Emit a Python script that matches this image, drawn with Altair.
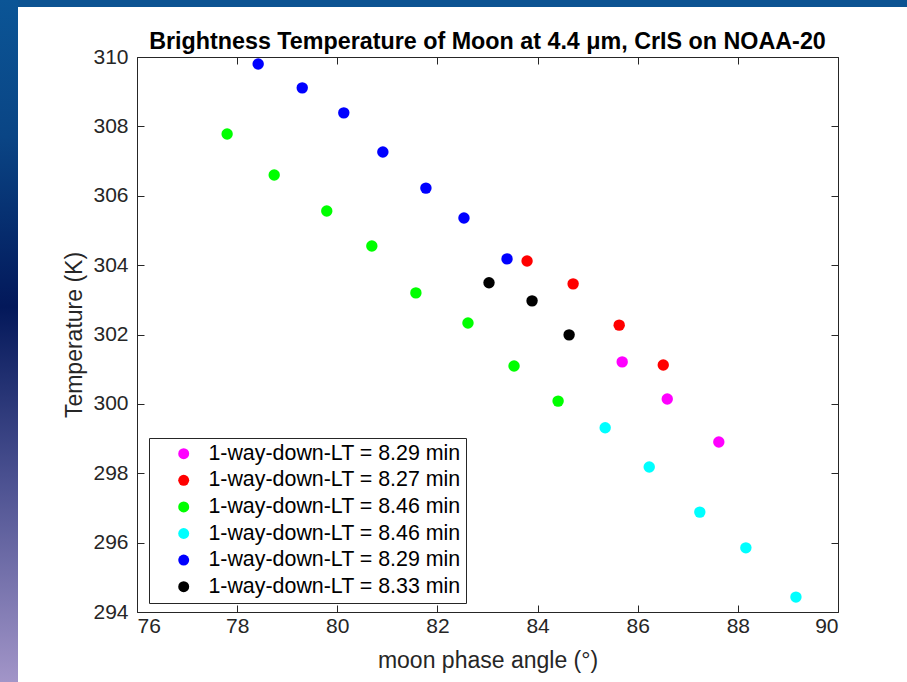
import json
import altair as alt
import pandas as pd

# ---- data ----
series_ids = ["s1", "s2", "s3", "s4", "s5", "s6"]
series_labels = [
    "1-way-down-LT = 8.29 min",
    "1-way-down-LT = 8.27 min",
    "1-way-down-LT = 8.46 min",
    "1-way-down-LT = 8.46 min",
    "1-way-down-LT = 8.29 min",
    "1-way-down-LT = 8.33 min",
]
series_colors = ["#ff00ff", "#ff0000", "#00ff00", "#00ffff", "#0000ff", "#000000"]

magenta_x = [85.69, 86.59, 87.62]
magenta_y = [301.21, 300.14, 298.90]
red_x = [83.79, 84.71, 85.63, 86.51]
red_y = [304.12, 303.46, 302.27, 301.12]
green_x = [77.80, 78.74, 79.79, 80.69, 81.57, 82.61, 83.53, 84.41]
green_y = [307.78, 306.60, 305.56, 304.55, 303.20, 302.33, 301.09, 300.08]
cyan_x = [85.35, 86.23, 87.24, 88.16, 89.16]
cyan_y = [299.31, 298.18, 296.88, 295.85, 294.43]
blue_x = [78.42, 79.30, 80.13, 80.91, 81.77, 82.53, 83.39]
blue_y = [309.80, 309.11, 308.39, 307.26, 306.22, 305.36, 304.18]
black_x = [83.03, 83.89, 84.63]
black_y = [303.49, 302.97, 301.99]

x_ticks = [76, 78, 80, 82, 84, 86, 88, 90]
y_ticks = [294, 296, 298, 300, 302, 304, 306, 308, 310]

series_x = [magenta_x, red_x, green_x, cyan_x, blue_x, black_x]
series_y = [magenta_y, red_y, green_y, cyan_y, blue_y, black_y]

rows = []
for sid, xs, ys in zip(series_ids, series_x, series_y):
    for a, t in zip(xs, ys):
        rows.append({"series": sid, "angle": a, "temp": t})
df = pd.DataFrame(rows)

FONT = "Liberation Sans"
AX = "#262626"

x_scale = alt.Scale(domain=[76, 90], nice=False, zero=False)
y_scale = alt.Scale(domain=[294, 310], nice=False, zero=False)

label_expr = json.dumps(series_labels) + "[indexof(" + json.dumps(series_ids) + ", datum.value)]"

common_axis = dict(
    offset=-7, tickSize=7, domain=False, tickColor=AX, tickWidth=1, grid=False,
)

points = alt.Chart(df).mark_point(filled=True, shape="circle", size=130, opacity=1).encode(
    x=alt.X("angle:Q", scale=x_scale,
            axis=alt.Axis(orient="bottom", values=x_ticks, title="moon phase angle (°)",
                          labelFont=FONT, labelFontSize=21, labelColor=AX, labelPadding=3,
                          titleFont=FONT, titleFontSize=23, titleFontWeight="normal",
                          titleColor=AX, titlePadding=13, **common_axis)),
    y=alt.Y("temp:Q", scale=y_scale,
            axis=alt.Axis(orient="left", values=y_ticks, title="Temperature (K)",
                          labelFont=FONT, labelFontSize=21, labelColor=AX, labelPadding=9,
                          titleFont=FONT, titleFontSize=23, titleFontWeight="normal",
                          titleColor=AX, titlePadding=6, **common_axis)),
    color=alt.Color("series:N",
                    scale=alt.Scale(domain=series_ids, range=series_colors),
                    legend=alt.Legend(
                        orient="none", legendX=12, legendY=381, title=None,
                        labelExpr=label_expr, labelFont=FONT, labelFontSize=21.4,
                        labelLimit=500, labelColor="black", symbolType="circle",
                        symbolSize=120, symbolStrokeWidth=0, rowPadding=3.6, padding=5,
                        symbolOffset=19, labelOffset=14,
                        strokeColor=AX, fillColor="white",
                    )),
)

mirror = alt.Chart(df).mark_point(opacity=0).encode(
    x=alt.X("angle:Q", scale=x_scale,
            axis=alt.Axis(orient="top", values=x_ticks, labels=False, title=None, **common_axis)),
    y=alt.Y("temp:Q", scale=y_scale,
            axis=alt.Axis(orient="right", values=y_ticks, labels=False, title=None, **common_axis)),
)

one = alt.Data(values=[{"k": 1}])
top_band = alt.Chart(one).mark_rect(color="#0c5392").encode(
    x=alt.value(-137), x2=alt.value(770), y=alt.value(-57), y2=alt.value(-50)
)
left_band = alt.Chart(one).mark_rect(
    color=alt.Gradient(
        gradient="linear", x1=0, y1=0, x2=0, y2=1,
        stops=[
            alt.GradientStop(offset=0, color="#0b5596"),
            alt.GradientStop(offset=0.2, color="#0a4585"),
            alt.GradientStop(offset=0.45, color="#03185a"),
            alt.GradientStop(offset=0.7, color="#4a5090"),
            alt.GradientStop(offset=1, color="#a295c8"),
        ],
    )
).encode(
    x=alt.value(-137), x2=alt.value(-119), y=alt.value(-57), y2=alt.value(625)
)

chart = alt.layer(top_band, left_band, mirror, points).resolve_axis(
    x="independent", y="independent"
).properties(
    width=701, height=555,
    autosize=alt.AutoSizeParams(type="none"),
    padding={"left": 137, "top": 57, "right": 69, "bottom": 70},
    background="white",
    title=alt.TitleParams(
        "Brightness Temperature of Moon at 4.4 μm, CrIS on NOAA-20",
        font=FONT, fontSize=23.3, fontWeight="bold", color="black",
        anchor="middle", offset=-54,
    ),
).configure_view(stroke=AX, strokeWidth=1)

chart.save("out.html", embed_options={"renderer": "svg", "actions": False})
